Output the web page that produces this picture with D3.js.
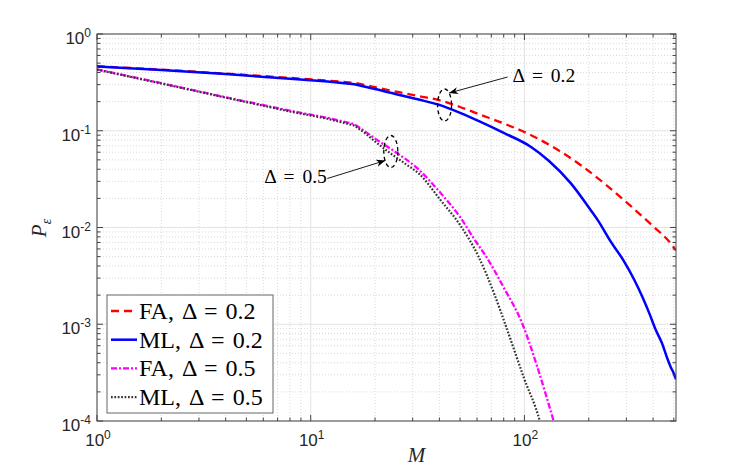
<!DOCTYPE html>
<html>
<head>
<meta charset="utf-8">
<script src="https://cdn.jsdelivr.net/npm/d3@7"></script>
<style>
body { margin: 0; background: #fff; }
</style>
</head>
<body>
<div id="chart"></div>
<script>
// values
var faM02 = [1, 2, 4, 8, 12, 16, 18, 20, 26, 32, 40, 50, 62, 80, 107, 140, 183, 240, 315, 400, 485, 512];
var faP02 = [0.465, 0.428, 0.39, 0.352, 0.33, 0.313, 0.297, 0.282, 0.25, 0.228, 0.207, 0.176, 0.147, 0.119, 0.0904, 0.0655, 0.0443, 0.0278, 0.0166, 0.0103, 0.0068, 0.0058];

var mlM02 = [1, 2, 4, 8, 12, 16, 18, 20, 26, 32, 40, 50, 62, 80, 107, 130, 165, 204, 220, 254, 292, 326, 357, 385, 412, 440, 465, 484, 500, 512];
var mlP02 = [0.462, 0.424, 0.385, 0.345, 0.322, 0.303, 0.285, 0.27, 0.234, 0.21, 0.185, 0.153, 0.124, 0.095, 0.0684, 0.049, 0.0286, 0.0152, 0.012, 0.0071, 0.0045, 0.0029, 0.0019, 0.00128, 0.00087, 0.00064, 0.00045, 0.00036, 0.00031, 0.00027];

var faM05 = [1, 2, 4, 8, 12, 16, 18, 20, 25, 31.5, 40, 50, 58, 67, 80, 98, 115, 137, 150];
var faP05 = [0.431, 0.31, 0.222, 0.161, 0.136, 0.117, 0.098, 0.083, 0.06, 0.041, 0.0235, 0.0128, 0.0077, 0.0048, 0.0024, 0.001, 0.00036, 0.0001, 0.00005];

var mlM05 = [1, 2, 4, 8, 12, 16, 18, 20, 23.6, 28, 32, 40.5, 50, 61, 72, 82, 100, 118, 130];
var mlP05 = [0.428, 0.308, 0.22, 0.158, 0.133, 0.113, 0.094, 0.0775, 0.0585, 0.0448, 0.0363, 0.0192, 0.0106, 0.005, 0.0021, 0.00095, 0.00027, 0.0001, 0.00004];

var legendLabels = ['FA, Δ = 0.2', 'ML, Δ = 0.2', 'FA, Δ = 0.5', 'ML, Δ = 0.5'];

var xTicks = [1, 10, 100];
var xTickExp = ['0', '1', '2'];
var yTicks = [1, 0.1, 0.01, 0.001, 0.0001];
var yTickExp = ['0', '-1', '-2', '-3', '-4'];

// annotation ellipses (centre in data units)
var annoLabels = ['Δ = 0.2', 'Δ = 0.5'];
var annoM = [42.3, 23.7];
var annoP = [0.1845, 0.061];

// the curves change slope sharply here
var kinkM = 16;

var width = 747,
    height = 473,
    pLeft = 97, pRight = 676,
    pTop = 34, pBottom = 421;

var x = d3.scaleLog().domain([1, 512]).range([pLeft, pRight]);
var y = d3.scaleLog().domain([1e-4, 1]).range([pBottom, pTop]);

var series = [
    {M: faM02, P: faP02, color: '#ff0000', dash: '8,5', w: 2.3},
    {M: mlM02, P: mlP02, color: '#0000ff', dash: null, w: 2.5},
    {M: faM05, P: faP05, color: '#ff00ff', dash: '6,2,2,2', w: 2.3},
    {M: mlM05, P: mlP05, color: '#333333', dash: '1.7,1.7', w: 2.2}
];

var svg = d3.select('#chart').append('svg')
    .attr('width', width)
    .attr('height', height)
    .style('background', '#fff');

var defs = svg.append('defs');
defs.append('clipPath').attr('id', 'plot')
    .append('rect')
    .attr('x', pLeft).attr('y', pTop)
    .attr('width', pRight - pLeft).attr('height', pBottom - pTop);
defs.append('marker').attr('id', 'arr')
    .attr('viewBox', '0 0 10 10')
    .attr('refX', 10).attr('refY', 5)
    .attr('markerWidth', 9).attr('markerHeight', 9)
    .attr('markerUnits', 'userSpaceOnUse')
    .attr('orient', 'auto')
    .append('path')
    .attr('d', 'M0,1 L10,5 L0,9 L3,5 Z')
    .attr('fill', '#000');

// minor tick values
function minors(lo, hi) {
    var out = [];
    for (var e = lo; e < hi; e++) {
        for (var d = 2; d <= 9; d++) out.push(d * Math.pow(10, e));
    }
    return out;
}
var xMinor = minors(0, 3).filter(function(v) { return v <= 512; });
var yMinor = minors(-4, 0);

var grid = svg.append('g');
grid.selectAll('.xm').data(xMinor).enter().append('line')
    .attr('x1', function(d) { return x(d); }).attr('x2', function(d) { return x(d); })
    .attr('y1', pTop).attr('y2', pBottom)
    .attr('stroke', '#cfcfcf').attr('stroke-width', 0.8)
    .attr('stroke-dasharray', '1,2');
grid.selectAll('.ym').data(yMinor).enter().append('line')
    .attr('y1', function(d) { return y(d); }).attr('y2', function(d) { return y(d); })
    .attr('x1', pLeft).attr('x2', pRight)
    .attr('stroke', '#cfcfcf').attr('stroke-width', 0.8)
    .attr('stroke-dasharray', '1,2');
grid.selectAll('.xM').data(xTicks).enter().append('line')
    .attr('x1', function(d) { return x(d); }).attr('x2', function(d) { return x(d); })
    .attr('y1', pTop).attr('y2', pBottom)
    .attr('stroke', '#e3e3e3').attr('stroke-width', 1);
grid.selectAll('.yM').data(yTicks).enter().append('line')
    .attr('y1', function(d) { return y(d); }).attr('y2', function(d) { return y(d); })
    .attr('x1', pLeft).attr('x2', pRight)
    .attr('stroke', '#e3e3e3').attr('stroke-width', 1);

// curves: straight part up to the kink, smooth part after it
var straight = d3.line()
    .x(function(d) { return x(d[0]); })
    .y(function(d) { return y(d[1]); });
var smooth = d3.line()
    .curve(d3.curveMonotoneX)
    .x(function(d) { return x(d[0]); })
    .y(function(d) { return y(d[1]); });

var curves = svg.append('g').attr('clip-path', 'url(#plot)');
series.forEach(function(s) {
    var pts = s.M.map(function(m, i) { return [m, s.P[i]]; });
    var head = pts.filter(function(p) { return p[0] <= kinkM; });
    var tail = pts.filter(function(p) { return p[0] >= kinkM; });
    var d = straight(head) + smooth(tail).replace(/^M[^CLZ]*/, '');
    curves.append('path')
        .attr('d', d)
        .attr('fill', 'none')
        .attr('stroke', s.color)
        .attr('stroke-width', s.w)
        .attr('stroke-dasharray', s.dash);
});

// axes box and ticks
var axisColor = '#444';
var ax = svg.append('g').attr('stroke', axisColor).attr('stroke-width', 1);
ax.append('rect')
    .attr('x', pLeft).attr('y', pTop)
    .attr('width', pRight - pLeft).attr('height', pBottom - pTop)
    .attr('fill', 'none');

function xTickLines(vals, len) {
    ax.selectAll(null).data(vals).enter().append('line')
        .attr('x1', function(d) { return x(d); }).attr('x2', function(d) { return x(d); })
        .attr('y1', pBottom).attr('y2', pBottom - len);
    ax.selectAll(null).data(vals).enter().append('line')
        .attr('x1', function(d) { return x(d); }).attr('x2', function(d) { return x(d); })
        .attr('y1', pTop).attr('y2', pTop + len);
}
function yTickLines(vals, len) {
    ax.selectAll(null).data(vals).enter().append('line')
        .attr('y1', function(d) { return y(d); }).attr('y2', function(d) { return y(d); })
        .attr('x1', pLeft).attr('x2', pLeft + len);
    ax.selectAll(null).data(vals).enter().append('line')
        .attr('y1', function(d) { return y(d); }).attr('y2', function(d) { return y(d); })
        .attr('x1', pRight).attr('x2', pRight - len);
}
xTickLines(xMinor, 3.5);
xTickLines(xTicks, 6);
yTickLines(yMinor, 3.5);
yTickLines(yTicks, 6);

// tick labels
var tickFont = '"Liberation Sans", Arial, Helvetica, sans-serif';
xTicks.forEach(function(v, i) {
    var t = svg.append('text')
        .attr('x', x(v) + 1).attr('y', pBottom + 25)
        .attr('text-anchor', 'middle')
        .attr('font-family', tickFont).attr('font-size', 17)
        .attr('fill', '#262626');
    t.append('tspan').text('10');
    t.append('tspan').attr('dy', -7).attr('font-size', 12).text(xTickExp[i]);
});
yTicks.forEach(function(v, i) {
    var t = svg.append('text')
        .attr('x', pLeft - 6).attr('y', y(v) + 10)
        .attr('text-anchor', 'end')
        .attr('font-family', tickFont).attr('font-size', 17)
        .attr('fill', '#262626');
    t.append('tspan').text('10');
    t.append('tspan').attr('dy', -7).attr('font-size', 12).text(yTickExp[i]);
});

var serif = '"Liberation Serif", "Times New Roman", serif';

// axis labels
svg.append('text')
    .attr('x', 416.5).attr('y', 462)
    .attr('text-anchor', 'middle')
    .attr('font-family', serif).attr('font-style', 'italic').attr('font-size', 21)
    .attr('fill', '#262626')
    .text('M');

var yl = svg.append('text')
    .attr('transform', 'translate(46,228) rotate(-90)')
    .attr('text-anchor', 'middle')
    .attr('font-family', serif).attr('font-style', 'italic').attr('font-size', 21)
    .attr('fill', '#262626');
yl.append('tspan').text('P');
yl.append('tspan').attr('dy', 5).attr('font-size', 14).text('ε');

// annotations
var annoStyle = [
    {tx: 68, ty: -23, anchor: 'start', ax1: 63, ay1: -28, ax2: 4.5, ay2: -12},
    {tx: -64, ty: 31.5, anchor: 'end', ax1: -63.5, ay1: 27, ax2: -5.5, ay2: 9}
];
annoLabels.forEach(function(lab, i) {
    var cx = x(annoM[i]), cy = y(annoP[i]), s = annoStyle[i];
    svg.append('ellipse')
        .attr('cx', cx).attr('cy', cy)
        .attr('rx', 7).attr('ry', 16)
        .attr('fill', 'none')
        .attr('stroke', '#000').attr('stroke-width', 1.3)
        .attr('stroke-dasharray', '4,3');
    svg.append('line')
        .attr('x1', cx + s.ax1).attr('y1', cy + s.ay1)
        .attr('x2', cx + s.ax2).attr('y2', cy + s.ay2)
        .attr('stroke', '#000').attr('stroke-width', 0.9)
        .attr('marker-end', 'url(#arr)');
    svg.append('text')
        .attr('x', cx + s.tx).attr('y', cy + s.ty)
        .attr('text-anchor', s.anchor)
        .attr('font-family', serif).attr('font-size', 19.5)
        .attr('word-spacing', 3)
        .attr('fill', '#000')
        .text(lab);
});

// legend
var lg = svg.append('g');
lg.append('rect')
    .attr('x', 107).attr('y', 295)
    .attr('width', 166).attr('height', 118)
    .attr('fill', '#fff')
    .attr('stroke', '#666').attr('stroke-width', 1);
legendLabels.forEach(function(lab, i) {
    var ly = 311 + i * 28.7, s = series[i];
    lg.append('line')
        .attr('x1', 111).attr('x2', 137)
        .attr('y1', ly).attr('y2', ly)
        .attr('stroke', s.color)
        .attr('stroke-width', s.w)
        .attr('stroke-dasharray', s.dash);
    lg.append('text')
        .attr('x', 139).attr('y', ly + 8)
        .attr('font-family', serif).attr('font-size', 24)
        .attr('word-spacing', 2)
        .attr('fill', '#000')
        .text(lab);
});
</script>
</body>
</html>
